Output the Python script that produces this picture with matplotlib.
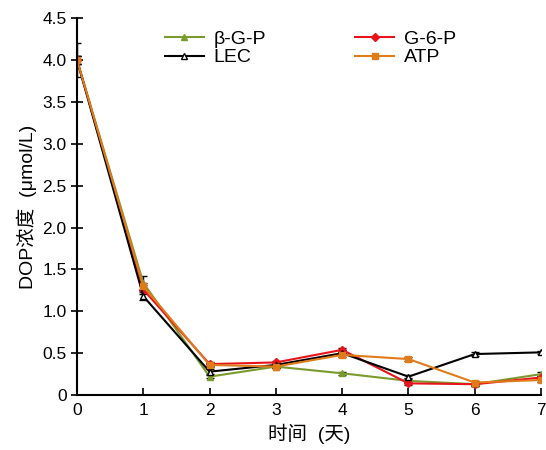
import numpy as np
import matplotlib.pyplot as plt
from matplotlib.lines import Line2D

plt.rcParams["font.family"] = ["Liberation Sans", "Noto Sans CJK SC"]
plt.rcParams["font.size"] = 12.5

days = [0, 1, 2, 3, 4, 5, 6, 7]

bgp = [4.0, 1.34, 0.22, 0.34, 0.26, 0.17, 0.13, 0.25]
g6p = [4.0, 1.26, 0.37, 0.39, 0.54, 0.14, 0.13, 0.21]
lec = [4.0, 1.18, 0.28, 0.36, 0.50, 0.22, 0.49, 0.51]
atp = [4.0, 1.30, 0.36, 0.34, 0.48, 0.43, 0.15, 0.18]

bgp_err = [0.2, 0.08, 0.02, 0.02, 0.02, 0.02, 0.02, 0.02]
g6p_err = [0.05, 0.05, 0.02, 0.02, 0.02, 0.02, 0.02, 0.02]
lec_err = [0.05, 0.05, 0.03, 0.02, 0.02, 0.02, 0.02, 0.02]
atp_err = [0.05, 0.04, 0.02, 0.02, 0.02, 0.02, 0.02, 0.02]

fig = plt.figure(figsize=(5.46, 4.5), dpi=100)
ax = fig.add_axes([0.141, 0.122, 0.85, 0.838])

series = [
    ("β-G-P", bgp, bgp_err, "#7A9A2E", "^", "#7A9A2E"),
    ("G-6-P", g6p, g6p_err, "#E8141C", "D", "#E8141C"),
    ("LEC", lec, lec_err, "black", "^", "white"),
    ("ATP", atp, atp_err, "#E07B1A", "s", "#E07B1A"),
]
handles = {}
for name, vals, err, col, mk, fc in series:
    ms = 4 if mk == "D" else 5
    ax.errorbar(days, vals, yerr=err, color=col, marker=mk, markersize=ms,
                markerfacecolor=fc, markeredgecolor=col, linewidth=1.5,
                capsize=3, elinewidth=1, ecolor="black" if name != "LEC" else col)
    handles[name] = Line2D([], [], color=col, marker=mk, markersize=ms,
                           markerfacecolor=fc, markeredgecolor=col,
                           linewidth=1.5, label=name)

ax.set_xlim(0, 7)
ax.set_ylim(0, 4.5)
ax.set_xticks(range(0, 8))
yt = np.arange(0, 4.51, 0.5)
ax.set_yticks(yt)
ax.set_yticklabels([f"{v:.1f}" if v > 0 else "0" for v in yt])
ax.spines.right.set_visible(False)
ax.spines.top.set_visible(False)
ax.spines.left.set_linewidth(1.5)
ax.spines.bottom.set_linewidth(1.5)
ax.tick_params(axis="y", direction="inout", length=8, width=1.2)
ax.tick_params(axis="x", direction="in", length=5, width=1.2, pad=6)

ax.set_xlabel("时间  (天)", fontsize=14)
ax.set_ylabel("DOP浓度  (μmol/L)", fontsize=14)

order = ["β-G-P", "LEC", "G-6-P", "ATP"]
ax.legend([handles[k] for k in order], order, ncol=2, frameon=False,
          loc="upper left", bbox_to_anchor=(0.302, 0.933),
          bbox_transform=fig.transFigure, borderpad=0, borderaxespad=0,
          columnspacing=4.6, handlelength=2.0, handletextpad=0.5,
          fontsize=14, labelspacing=0.05)

plt.savefig("out.png", dpi=100)
